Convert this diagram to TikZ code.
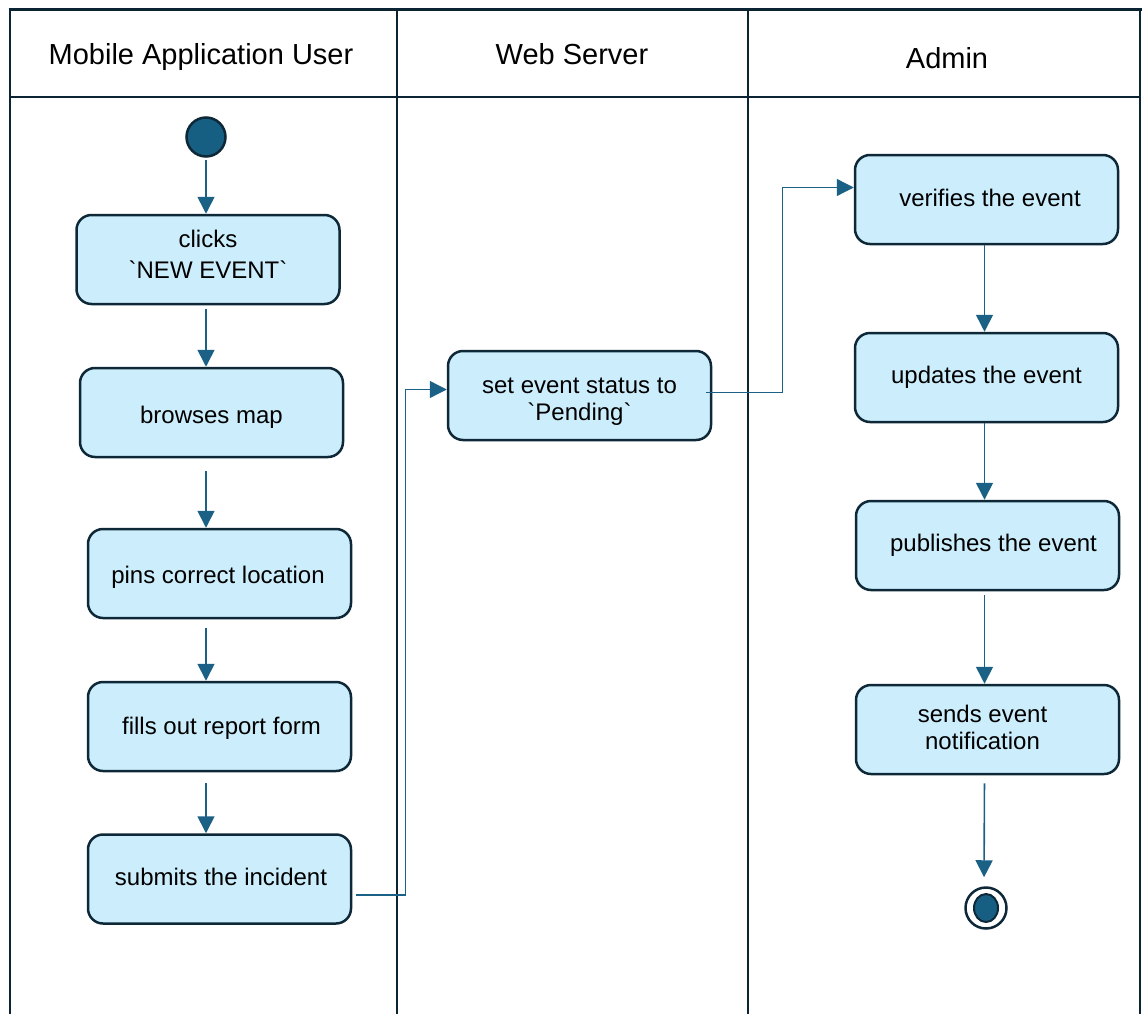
\documentclass[tikz,border=0pt]{standalone}
\usepackage{fontspec}
\setmainfont{Liberation Sans}
\usetikzlibrary{arrows.meta,calc,shapes.geometric}
\definecolor{laneline}{HTML}{0B2433}
\definecolor{boxfill}{HTML}{CCEEFC}
\definecolor{boxline}{HTML}{0E2838}
\definecolor{flowcol}{HTML}{1B6185}
\definecolor{dotfill}{HTML}{165F83}
\tikzset{
  lane/.style={draw=laneline, line width=2pt},
  header/.style={font=\fontsize{29}{33}\selectfont, text=black},
  action/.style={draw=boxline, fill=boxfill, line width=2.5pt, rounded corners=15pt,
    minimum width=263pt, minimum height=89pt, align=center, inner sep=0pt,
    font=\fontsize{24}{30}\selectfont, text=black},
  flow/.style={draw=flowcol, line width=1.6pt, -{Triangle[width=17pt 0,length=17pt 0]}},
  link/.style={draw=flowcol, line width=1.3pt, -{Triangle[width=17pt 0,length=17pt 0]}},
  initial/.style={circle, draw=boxline, fill=dotfill, line width=2.5pt, minimum size=39pt, inner sep=0pt},
}
\newcommand{\tick}{\textasciigrave}
% shift a label inside its box without changing the box's reported size
\newcommand{\nudge}[3]{\raisebox{#2}[\height][\depth]{\hspace{#1}#3}}
\begin{document}
\begin{tikzpicture}[x=1pt,y=-1pt]
\useasboundingbox (0,0) rectangle (1142,1014);

% swimlanes
\draw[lane] (10,97) -- (1140,97);
\draw[lane] (10,10) -- (10,1014);
\draw[lane] (397,10) -- (397,1014);
\draw[lane] (748,10) -- (748,1014);
\draw[lane] (1140,10) -- (1140,1014);
\draw[draw=laneline, line width=3pt] (8.5,10) -- (1141.5,10);

\node[header] (h1) at (201,57) {Mobile Application User};
\node[header] (h2) at (572,54) {Web Server};
\node[header] (h3) at (947,58) {Admin};

% mobile application user
\node[initial] (s) at (206,137) {};
\node[action] (b1) at (208,259.5) {\nudge{0pt}{3pt}{\begin{tabular}{@{}c@{}}clicks\\[1pt] \tick NEW EVENT\tick\end{tabular}}};
\node[action] (b2) at (211.5,412.5) {\nudge{0pt}{-5pt}{browses map}};
\node[action] (b3) at (219.5,573.5) {\nudge{-3pt}{-4pt}{pins correct location}};
\node[action] (b4) at (219.5,726.5) {\nudge{4pt}{-2pt}{fills out report form}};
\node[action] (b5) at (219.5,879) {\nudge{3pt}{2pt}{submits the incident}};

% web server
\node[action] (b6) at (579.5,395.5) {\nudge{0pt}{-5pt}{\begin{tabular}{@{}c@{}}set event status to\\[-3pt] \tick Pending\tick\end{tabular}}};

% admin
\node[action] (b7) at (986.5,199.5) {\nudge{7pt}{2pt}{verifies the event}};
\node[action] (b8) at (986.5,377.5) {updates the event};
\node[action] (b9) at (987.5,545.5) {\hspace{12pt}publishes the event};
\node[action] (b10) at (987.5,729.5) {\begin{tabular}{@{}c@{}}sends event\\[-3pt] notification\end{tabular}\hspace{10pt}};

% final node
\node[circle, draw=boxline, line width=2.5pt, fill=white, minimum size=41pt, inner sep=0pt] (e) at (986,908) {};
\node[ellipse, draw=boxline, fill=dotfill, line width=2pt, minimum width=24pt, minimum height=28pt, inner sep=0pt] (ei) at (986,908) {};

% control flow
\draw[flow, shorten <=2pt] (s) -- (b1.north -| s);
\draw[flow, shorten <=4pt] (b1.south -| s) -- (b2.north -| s);
\draw[flow, shorten <=13pt] (b2.south -| s) -- (b3.north -| s);
\draw[flow, shorten <=9pt] (b3.south -| s) -- (b4.north -| s);
\draw[flow, shorten <=11pt] (b4.south -| s) -- (b5.north -| s);

\draw[link] ([xshift=4pt,yshift=-16pt]b5.east) -- ++(49,0) |- ([yshift=6pt]b6.west);
\draw[link] ([xshift=-6pt,yshift=3pt]b6.east) -- ++(76,0) |- ([yshift=12pt]b7.west);

\draw[flow] ([xshift=-2pt]b7.south) -- ([xshift=-2pt]b8.north);
\draw[flow] ([xshift=-2pt]b8.south) -- ([xshift=-3pt]b9.north);
\draw[flow, shorten <=4pt] ([xshift=-3pt]b9.south) -- ([xshift=-3pt]b10.north);
\draw[flow, shorten <=8pt, shorten >=9pt] ([xshift=-3pt]b10.south) -- ([xshift=-2pt]e.north);
\end{tikzpicture}
\end{document}
